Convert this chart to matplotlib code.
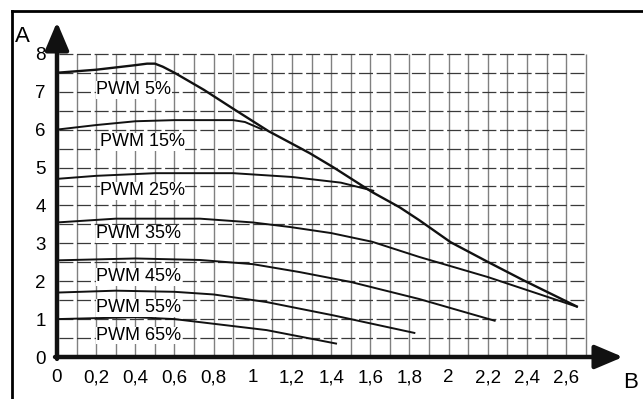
import matplotlib
matplotlib.use("Agg")
import matplotlib.pyplot as plt
import numpy as np
from matplotlib.lines import Line2D

plt.rcParams['font.family'] = ['Liberation Sans', 'DejaVu Sans']

# ---- data ----
x_ticks = [0, 0.2, 0.4, 0.6, 0.8, 1.0, 1.2, 1.4, 1.6, 1.8, 2.0, 2.2, 2.4, 2.6]
x_tick_labels = ["0", "0,2", "0,4", "0,6", "0,8", "1", "1,2", "1,4", "1,6", "1,8", "2", "2,2", "2,4", "2,6"]
y_ticks = [0, 1, 2, 3, 4, 5, 6, 7, 8]
y_tick_labels = ["0", "1", "2", "3", "4", "5", "6", "7", "8"]

pwm5_x = [0, 0.2, 0.4, 0.46, 0.5, 0.54, 0.6, 0.75, 0.9, 1.08, 1.29, 1.41, 1.61, 1.75, 1.85, 2.01, 2.2, 2.38, 2.66]
pwm5_y = [7.5, 7.58, 7.7, 7.74, 7.74, 7.66, 7.5, 7.05, 6.55, 5.96, 5.38, 5.01, 4.35, 3.95, 3.61, 3.03, 2.51, 2.03, 1.32]
pwm15_x = [0, 0.2, 0.4, 0.6, 0.9, 0.96, 1.05]
pwm15_y = [6.0, 6.12, 6.22, 6.25, 6.25, 6.2, 6.0]
pwm25_x = [0, 0.2, 0.5, 0.9, 1.2, 1.45, 1.62]
pwm25_y = [4.7, 4.78, 4.85, 4.85, 4.75, 4.6, 4.38]
pwm35_x = [0, 0.3, 0.73, 1.0, 1.19, 1.4, 1.61, 1.85, 2.2, 2.66]
pwm35_y = [3.55, 3.65, 3.65, 3.55, 3.43, 3.27, 3.04, 2.64, 2.11, 1.32]
pwm45_x = [0, 0.4, 0.73, 1.0, 1.24, 1.5, 1.85, 2.24]
pwm45_y = [2.55, 2.6, 2.56, 2.45, 2.24, 1.98, 1.53, 0.95]
pwm55_x = [0, 0.3, 0.6, 0.8, 1.07, 1.41, 1.83]
pwm55_y = [1.7, 1.75, 1.72, 1.65, 1.45, 1.1, 0.63]
pwm65_x = [0, 0.4, 0.6, 0.73, 1.07, 1.43]
pwm65_y = [1.0, 1.05, 1.0, 0.92, 0.71, 0.35]

curve_names = ["PWM 5%", "PWM 15%", "PWM 25%", "PWM 35%", "PWM 45%", "PWM 55%", "PWM 65%"]
label_x = [0.2, 0.22, 0.22, 0.2, 0.2, 0.2, 0.2]
label_y = [7.05, 5.68, 4.38, 3.25, 2.12, 1.3, 0.57]

# ---- figure ----
fig = plt.figure(figsize=(6.43, 3.99), dpi=100)
ax = fig.add_axes([57/643, (399-357)/399, (623-57)/643, (357-22)/399])
ax.set_xlim(0, (623-57)/195.8)
ax.set_ylim(0, (357-22)/37.9)
for s in ax.spines.values():
    s.set_visible(False)

# grid
gx = np.arange(1, 28) / 10
gy = np.arange(1, 17) / 2
for v in gx:
    ax.plot([v, v], [0, 8], color='#808080', lw=1.0, zorder=1, solid_capstyle='butt')
for h in gy:
    ax.plot([0, 2.7], [h, h], color='#3a3a3a', lw=0.9, zorder=1,
            linestyle=(12.6, (11.2, 2.9)))

curves = [(pwm5_x, pwm5_y, 1.7), (pwm15_x, pwm15_y, 1.4), (pwm25_x, pwm25_y, 1.4),
          (pwm35_x, pwm35_y, 1.4), (pwm45_x, pwm45_y, 1.4), (pwm55_x, pwm55_y, 1.4),
          (pwm65_x, pwm65_y, 1.4)]
for cx, cy, lw in curves:
    ax.plot(cx, cy, color='#111111', lw=lw, zorder=3, solid_capstyle='butt')

for name, lx, ly in zip(curve_names, label_x, label_y):
    ax.text(lx, ly, name, fontsize=13, ha='left', va='center', zorder=4,
            bbox=dict(facecolor='white', edgecolor='none', pad=0.3))

# axes with arrows
xmax = ax.get_xlim()[1]
ymax = ax.get_ylim()[1]
ap = dict(arrowstyle='-|>,head_length=1.7,head_width=0.72', mutation_scale=10,
          lw=3.2, color='#111111', shrinkA=0, shrinkB=0)
ax.annotate('', xy=(xmax, 0), xytext=(-0.01, 0), arrowprops=ap, annotation_clip=False, zorder=5)
ax.annotate('', xy=(0, ymax), xytext=(0, -0.05), arrowprops=ap, annotation_clip=False, zorder=5)

ax.set_xticks(x_ticks)
ax.set_xticklabels(x_tick_labels)
ax.set_yticks(y_ticks)
ax.set_yticklabels(y_tick_labels)
ax.tick_params(axis='x', length=0, labelsize=13.5, pad=9)
ax.tick_params(axis='y', length=0, labelsize=13.5, pad=8)

fig.text(22/643, 1 - 36/399, "A", fontsize=16, ha='center', va='center')
fig.text(631/643, 1 - 383/399, "B", fontsize=16, ha='center', va='center')

# outer frame (left and top edges)
fig.add_artist(Line2D([12/643, 12/643], [0, 1 - 11/399], transform=fig.transFigure, color='black', lw=2))
fig.add_artist(Line2D([12/643, 1], [1 - 11/399, 1 - 11/399], transform=fig.transFigure, color='black', lw=2))

fig.savefig("out.png", dpi=100)
